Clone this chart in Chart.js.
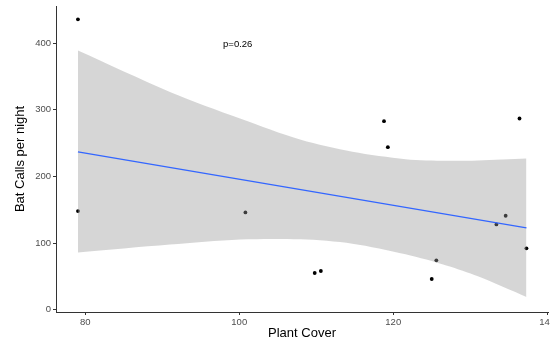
<!DOCTYPE html>
<html>
<head>
<meta charset="utf-8">
<title>Bat Calls vs Plant Cover</title>
<script src="https://cdn.jsdelivr.net/npm/chart.js@4.4.1/dist/chart.umd.min.js"></script>
<style>
    html, body { margin: 0; padding: 0; background: #ffffff; overflow: hidden; }
    /* canvas is a bit wider than the page so the last x label is cut at the edge */
    #wrap { width: 550px; height: 343px; overflow: hidden; }
</style>
</head>
<body>
<div id="wrap"><canvas id="batChart" width="556" height="343"></canvas></div>
<script>
// observed sites
const plantCover = [79.05, 79.05, 100.8, 109.8, 110.6, 118.8, 119.3, 125.0, 125.6, 133.4, 134.6, 136.4, 137.3];
const batCalls   = [436,   148,   146,   55,    58,    283,   244,   46,    74,    128,   141,   287,   92];

// fitted lm line (ends of the range)
const fitX = [79.05, 137.3];
const fitY = [237, 122.8];

// confidence band
const bandX     = [79.05, 91, 100.1, 108, 114.7, 121.6, 127, 131, 137.3];
const bandUpper = [389,   327, 287,  255, 237,   226,   223.5, 224, 227];
const bandLower = [85.7,  97.7, 105.3, 105.5, 99, 83,   66,   50,  19];

const xTicks = [80, 100, 120, 140];
const yTicks = [0, 100, 200, 300, 400];

const pLabel = "p=0.26";
const pLabelAt = [99.8, 399];

const TICK_COLOR = "#4d4d4d";
const AXIS_COLOR = "#333333";

const toPoints = (xs, ys) => xs.map((x, i) => ({ x: x, y: ys[i] }));

const pValuePlugin = {
    id: "pValue",
    afterDatasetsDraw(chart) {
        const { ctx, scales: { x, y } } = chart;
        ctx.save();
        ctx.font = "9.5px 'Liberation Sans', Arial, sans-serif";
        ctx.fillStyle = "#000000";
        ctx.textAlign = "center";
        ctx.textBaseline = "middle";
        ctx.fillText(pLabel, x.getPixelForValue(pLabelAt[0]), y.getPixelForValue(pLabelAt[1]));
        ctx.restore();
    }
};

function renderChart() {
    const ctx = document.getElementById("batChart");

    new Chart(ctx, {
        type: "scatter",
        data: {
            datasets: [
                {
                    type: "line",
                    data: toPoints(fitX, fitY),
                    borderColor: "#3366ff",
                    borderWidth: 1.2,
                    pointRadius: 0,
                    fill: false
                },
                {
                    type: "line",
                    data: toPoints(bandX, bandUpper),
                    borderWidth: 0,
                    borderColor: "rgba(0,0,0,0)",
                    backgroundColor: "rgba(153,153,153,0.4)",
                    pointRadius: 0,
                    tension: 0.3,
                    fill: "+1"
                },
                {
                    type: "line",
                    data: toPoints(bandX, bandLower),
                    borderWidth: 0,
                    borderColor: "rgba(0,0,0,0)",
                    pointRadius: 0,
                    tension: 0.3,
                    fill: false
                },
                {
                    data: toPoints(plantCover, batCalls),
                    backgroundColor: "#000000",
                    borderWidth: 0,
                    pointRadius: 1.9
                }
            ]
        },
        options: {
            responsive: false,
            animation: false,
            layout: { padding: { top: 6, right: 8, left: 0, bottom: 0 } },
            plugins: {
                legend: { display: false },
                tooltip: { enabled: false }
            },
            scales: {
                x: {
                    type: "linear",
                    min: 76.2,
                    max: 140.1,
                    afterBuildTicks: s => { s.ticks = xTicks.map(v => ({ value: v })); },
                    afterFit: s => { s.height = 31; s.paddingLeft = 0; s.paddingRight = 0; },
                    border: { display: true, color: AXIS_COLOR, width: 1 },
                    grid: { display: true, drawOnChartArea: false, drawTicks: true, tickLength: 3, color: AXIS_COLOR },
                    ticks: {
                        color: TICK_COLOR,
                        padding: 2,
                        maxRotation: 0,
                        font: { family: "'Liberation Sans', Arial, sans-serif", size: 9.5 }
                    },
                    title: {
                        display: true,
                        text: "Plant Cover",
                        color: "#000000",
                        padding: { top: 0, bottom: 2 },
                        font: { family: "'Liberation Sans', Arial, sans-serif", size: 13 }
                    }
                },
                y: {
                    type: "linear",
                    min: -3.6,
                    max: 456,
                    afterBuildTicks: s => { s.ticks = yTicks.map(v => ({ value: v })); },
                    afterFit: s => { s.width = 56; s.paddingTop = 0; s.paddingBottom = 0; },
                    border: { display: true, color: AXIS_COLOR, width: 1 },
                    grid: { display: true, drawOnChartArea: false, drawTicks: true, tickLength: 3, color: AXIS_COLOR },
                    ticks: {
                        color: TICK_COLOR,
                        padding: 2,
                        font: { family: "'Liberation Sans', Arial, sans-serif", size: 9.5 }
                    },
                    title: {
                        display: true,
                        text: "Bat Calls per night",
                        color: "#000000",
                        padding: { top: 13, bottom: 0 },
                        font: { family: "'Liberation Sans', Arial, sans-serif", size: 13 }
                    }
                }
            }
        },
        plugins: [pValuePlugin]
    });
}

document.addEventListener("DOMContentLoaded", renderChart);
</script>
</body>
</html>
